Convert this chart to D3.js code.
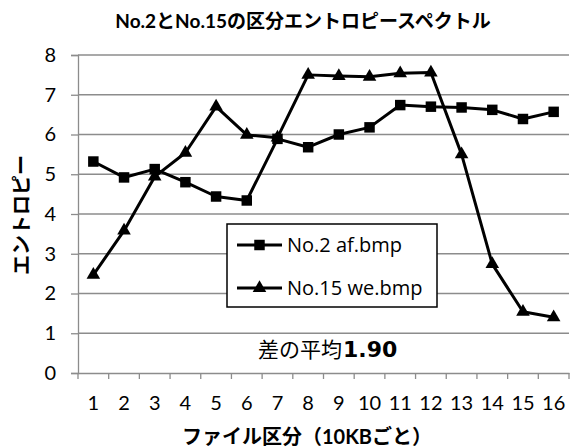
<!DOCTYPE html>
<html>
<head>
<meta charset="utf-8">
<script src="https://cdn.jsdelivr.net/npm/d3@7"></script>
<style>
  html, body { margin: 0; padding: 0; background: #fff; }
  svg { display: block; }
  text { font-family: Lato, "Noto Sans CJK JP", sans-serif; fill: #000; }
</style>
</head>
<body>
<svg id="chart" width="570" height="448"></svg>
<script>
// Entropy spectrum per 10KB section for two files
const categories = [1, 2, 3, 4, 5, 6, 7, 8, 9, 10, 11, 12, 13, 14, 15, 16];
const no2Values  = [5.32, 4.92, 5.13, 4.80, 4.44, 4.34, 5.89, 5.68, 6.00, 6.18, 6.74, 6.70, 6.68, 6.62, 6.39, 6.57];
const no15Values = [2.47, 3.58, 4.94, 5.54, 6.70, 5.99, 5.92, 7.50, 7.47, 7.45, 7.54, 7.56, 5.50, 2.74, 1.54, 1.40];
const yTicks = [0, 1, 2, 3, 4, 5, 6, 7, 8];
const seriesNames = ["No.2 af.bmp", "No.15 we.bmp"];
const titleText = "No.2とNo.15の区分エントロピースペクトル";
const xTitle = "ファイル区分（10KBごと）";
const yTitle = "エントロピー";
const meanLabel = "差の平均";
const meanDiff = "1.90";

const svg = d3.select("#chart");
const plotLeft = 78, plotRight = 569, plotTop = 55, plotBottom = 373;
const gridColor = "#8c8c8c";

const x = d3.scaleBand().domain(categories).range([plotLeft, plotRight]);
const y = d3.scaleLinear().domain([0, 8]).range([plotBottom, plotTop]);
const cx = d => x(d) + x.bandwidth() / 2;

// gridlines
svg.append("g").selectAll("line")
  .data(yTicks.filter(t => t > 0))
  .join("line")
  .attr("x1", plotLeft).attr("x2", plotRight)
  .attr("y1", d => y(d)).attr("y2", d => y(d))
  .attr("stroke", gridColor).attr("stroke-width", 1.3);

// y axis
const yAxis = svg.append("g")
  .attr("transform", `translate(${plotLeft},0)`)
  .call(d3.axisLeft(y).tickValues(yTicks).tickSize(7).tickPadding(15).tickFormat(d3.format("d")));
yAxis.selectAll("line").attr("stroke", gridColor).attr("stroke-width", 1.3);
yAxis.select(".domain").attr("stroke", gridColor).attr("stroke-width", 1.3);
yAxis.selectAll("text").attr("font-size", 20).style("font-family", "Lato, sans-serif").attr("fill", "#000");

// x axis
const xAxis = svg.append("g")
  .attr("transform", `translate(0,${plotBottom})`)
  .call(d3.axisBottom(x).tickSize(0).tickPadding(23));
xAxis.select(".domain").attr("stroke", gridColor).attr("stroke-width", 1.3);
xAxis.selectAll("text").attr("font-size", 20).style("font-family", "Lato, sans-serif").attr("fill", "#000");
// category boundary ticks
svg.append("g").selectAll("line")
  .data(categories.map(c => x(c)).concat([plotRight]))
  .join("line")
  .attr("x1", d => d).attr("x2", d => d)
  .attr("y1", plotBottom).attr("y2", plotBottom + 6)
  .attr("stroke", gridColor).attr("stroke-width", 1.3);

// series lines
const line = d3.line().x(d => cx(d.c)).y(d => y(d.v));
const series = [no2Values, no15Values].map(vals => categories.map((c, i) => ({ c, v: vals[i] })));

series.forEach(s => {
  svg.append("path").datum(s)
    .attr("d", line)
    .attr("fill", "none").attr("stroke", "#000").attr("stroke-width", 3)
    .attr("stroke-linejoin", "round");
});

const square = d3.symbol().type(d3.symbolSquare).size(110);
const triangle = d3.symbol().type(d3.symbolTriangle).size(80);

svg.append("g").selectAll("path")
  .data(series[0]).join("path")
  .attr("d", square)
  .attr("transform", d => `translate(${cx(d.c)},${y(d.v)})`)
  .attr("fill", "#000");

svg.append("g").selectAll("path")
  .data(series[1]).join("path")
  .attr("d", triangle)
  .attr("transform", d => `translate(${cx(d.c)},${y(d.v)})`)
  .attr("fill", "#000");

// legend
const lg = svg.append("g");
lg.append("rect")
  .attr("x", 227).attr("y", 224).attr("width", 210).attr("height", 83)
  .attr("fill", "#fff").attr("stroke", "#000").attr("stroke-width", 1.5);
const legendItems = [{ name: seriesNames[0], sym: square, y: 245 }, { name: seriesNames[1], sym: triangle, y: 288 }];
legendItems.forEach(it => {
  lg.append("line").attr("x1", 237).attr("x2", 282).attr("y1", it.y).attr("y2", it.y)
    .attr("stroke", "#000").attr("stroke-width", 3);
  lg.append("path").attr("d", it.sym).attr("transform", `translate(259.5,${it.y})`).attr("fill", "#000");
  lg.append("text").attr("x", 287).attr("y", it.y).attr("dy", "0.35em")
    .attr("font-size", 20).style("font-family", "'Open Sans', sans-serif").text(it.name);
});

// mean difference note
const note = svg.append("text").attr("x", 258).attr("y", 351).attr("dy", "0.35em")
  .attr("text-anchor", "start");
note.append("tspan").attr("font-size", 21).style("font-family", "'Noto Sans CJK JP', sans-serif").text(meanLabel);
note.append("tspan").attr("font-size", 22).attr("font-weight", "bold")
  .style("font-family", "'DejaVu Sans', sans-serif").attr("dx", 1).text(meanDiff);

// title
svg.append("text").attr("x", 303).attr("y", 21).attr("dy", "0.35em")
  .attr("text-anchor", "middle").attr("font-size", 19).attr("font-weight", "bold")
  .text(titleText);

// axis titles
svg.append("text").attr("x", 307).attr("y", 437).attr("dy", "0.35em")
  .attr("text-anchor", "middle").attr("font-size", 20).attr("font-weight", "bold")
  .text(xTitle);

svg.append("text").attr("transform", "translate(22,215) rotate(-90)").attr("dy", "0.35em")
  .attr("text-anchor", "middle").attr("font-size", 20).attr("font-weight", "bold")
  .text(yTitle);
</script>
</body>
</html>
